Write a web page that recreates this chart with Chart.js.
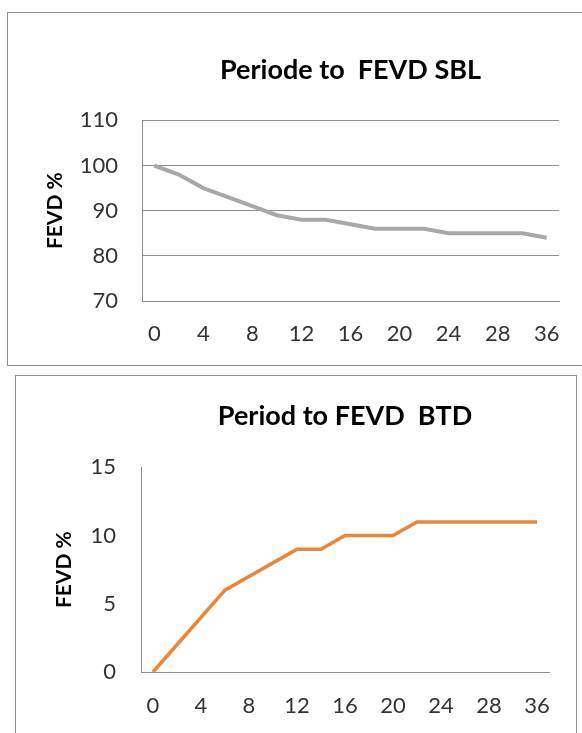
<!DOCTYPE html>
<html>
<head>
<meta charset="utf-8">
<script src="https://cdn.jsdelivr.net/npm/chart.js@4"></script>
<style>
    html, body { margin: 0; padding: 0; background: #fff; overflow: hidden; width: 582px; height: 733px; }
    .box { position: absolute; box-sizing: border-box; border: 1px solid #8f8f8f; background: #fff; }
    .box canvas { position: absolute; left: 0; top: 0; }
    #box-sbl { left: 7px; top: 12px; width: 600px; height: 354px; }
    #box-btd { left: 15px; top: 375px; width: 562px; height: 400px; }
</style>
</head>
<body>
<div class="box" id="box-sbl"><canvas id="sbl" width="574" height="352"></canvas></div>
<div class="box" id="box-btd"><canvas id="btd" width="560" height="357"></canvas></div>
<script>
const periods = [0, 2, 4, 6, 8, 10, 12, 14, 16, 18, 20, 22, 24, 26, 28, 32, 36],
    sblValues = [100, 98, 95, 93, 91, 89, 88, 88, 87, 86, 86, 86, 85, 85, 85, 85, 84],
    btdValues = [0, 2, 4, 6, 7, 8, 9, 9, 10, 10, 10, 11, 11, 11, 11, 11, 11],
    sblRange = [70, 110, 10],
    btdRange = [0, 15, 5];

const axisGray = "#8f8f8f",
    textColor = "#333333",
    family = "Lato";

// every second category gets a label, like the excel axis
function everyOther(value, index) {
    return index % 2 === 0 ? this.getLabelForValue(value) : "";
}

function draw(canvas, cfg) {
    return new Chart(canvas, {
        type: "line",
        data: {
            labels: periods,
            datasets: [{
                data: cfg.values,
                borderColor: cfg.color,
                borderWidth: cfg.lineWidth,
                pointRadius: 0,
                tension: 0,
                fill: false,
            }]
        },
        options: {
            responsive: false,
            animation: false,
            layout: { padding: { left: 0, right: cfg.padRight, top: 0, bottom: 0 } },
            plugins: {
                legend: { display: false },
                tooltip: { enabled: false },
                title: {
                    display: true,
                    text: cfg.title,
                    fullSize: false,
                    color: "#000",
                    font: { family: family, size: 27, weight: "bold", lineHeight: 1.2 },
                    padding: cfg.titlePad,
                },
            },
            scales: {
                x: {
                    type: "category",
                    offset: true,
                    grid: { display: false, drawTicks: false },
                    border: { display: true, color: axisGray, width: 1 },
                    ticks: {
                        autoSkip: false,
                        maxRotation: 0,
                        padding: cfg.xPad,
                        color: textColor,
                        font: { family: family, size: 22 },
                        callback: everyOther,
                    },
                    afterFit: s => { s.height = cfg.xHeight; },
                },
                y: {
                    min: cfg.range[0],
                    max: cfg.range[1],
                    grid: { display: cfg.grid, color: axisGray, lineWidth: 1, drawTicks: false },
                    border: { display: true, color: axisGray, width: 1 },
                    ticks: {
                        stepSize: cfg.range[2],
                        padding: cfg.yPad,
                        color: textColor,
                        font: { family: family, size: 22 },
                    },
                    title: {
                        display: true,
                        text: "FEVD %",
                        color: "#000",
                        font: { family: family, size: 21, weight: "bold", lineHeight: 1.2 },
                        padding: { top: cfg.yTitlePad, bottom: 0 },
                    },
                    afterFit: s => { s.width = cfg.yWidth; },
                },
            },
        },
    });
}

draw(document.getElementById("sbl"), {
    title: "Periode to  FEVD SBL",
    values: sblValues,
    range: sblRange,
    color: "rgb(170,167,164)",
    lineWidth: 4,
    grid: true,
    padRight: 23,
    titlePad: { top: 41, bottom: 34 },
    xPad: 20,
    xHeight: 64,
    yPad: 24,
    yWidth: 134,
    yTitlePad: 35,
});

draw(document.getElementById("btd"), {
    title: "Period to FEVD  BTD",
    values: btdValues,
    range: btdRange,
    color: "#ee8536",
    lineWidth: 3.5,
    grid: false,
    padRight: 27,
    titlePad: { top: 24, bottom: 35 },
    xPad: 21,
    xHeight: 61,
    yPad: 25,
    yWidth: 125,
    yTitlePad: 36,
});
</script>
</body>
</html>
